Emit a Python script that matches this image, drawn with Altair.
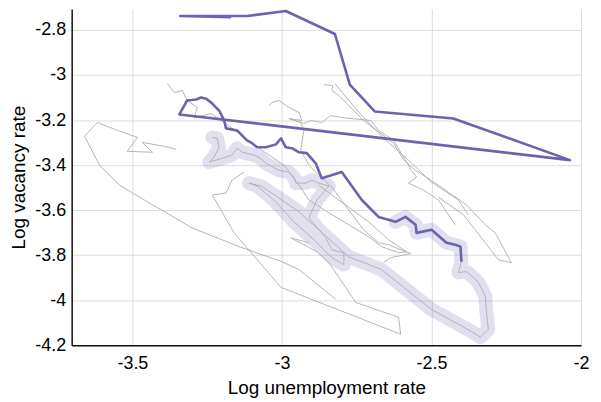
import altair as alt
import pandas as pd

# ---- gray episodes (log unemployment rate u, log vacancy rate v) ----
g1_u = [-3.353, -3.393, -3.467, -3.433, -3.517, -3.483, -3.55, -3.617, -3.66, -3.61, -3.543, -3.46, -3.30, -3.143, -3.0, -2.943, -2.82]
g1_v = [-3.330, -3.317, -3.299, -3.343, -3.339, -3.277, -3.246, -3.211, -3.272, -3.40, -3.489, -3.555, -3.679, -3.762, -3.829, -3.864, -3.996]

g2_u = [-3.127, -3.167, -3.187, -3.233, -3.16, -3.003, -2.603, -2.61, -2.753, -2.843, -2.883, -2.97, -2.91]
g2_v = [-3.431, -3.467, -3.524, -3.533, -3.701, -3.943, -4.151, -4.076, -4.01, -3.833, -3.785, -3.723, -3.745]

g3_u = [-3.383, -3.36, -3.333, -3.317, -3.283, -3.293, -3.237, -3.17, -3.077, -2.993, -2.943, -2.91, -2.843, -2.777, -2.71, -2.667, -2.61, -2.583, -2.643, -2.71, -2.81, -2.877]
g3_v = [-3.038, -3.078, -3.069, -3.113, -3.144, -3.189, -3.171, -3.233, -3.325, -3.40, -3.489, -3.555, -3.612, -3.665, -3.718, -3.762, -3.789, -3.785, -3.732, -3.652, -3.555, -3.489]

g4_u = [-3.043, -3.033, -3.01, -2.977, -2.943, -2.933, -2.977, -2.927, -2.903, -2.867, -2.837, -2.80, -2.703, -2.677, -2.627, -2.567, -2.55, -2.577, -2.527, -2.477, -2.42]
g4_v = [-3.136, -3.122, -3.113, -3.144, -3.166, -3.202, -3.193, -3.215, -3.202, -3.211, -3.18, -3.189, -3.202, -3.246, -3.29, -3.423, -3.453, -3.48, -3.511, -3.555, -3.665]

g5_u = [-2.86, -2.83, -2.833, -2.81, -2.727, -2.627, -2.593, -2.553, -2.477, -2.383, -2.32, -2.287, -2.233, -2.277, -2.32, -2.393, -2.477]
g5_v = [-3.043, -3.047, -3.069, -3.091, -3.202, -3.303, -3.378, -3.423, -3.489, -3.577, -3.665, -3.701, -3.833, -3.82, -3.745, -3.621, -3.542]

g6_u = [-2.977, -2.937, -2.927, -2.937, -2.91, -2.877, -2.833, -2.777, -2.727, -2.677, -2.643, -2.57, -2.637, -2.66]
g6_v = [-3.193, -3.211, -3.246, -3.334, -3.40, -3.445, -3.498, -3.599, -3.687, -3.745, -3.754, -3.793, -3.811, -3.833]

g7_u = [-2.823, -2.743, -2.66, -2.577, -2.50, -2.41, -2.377]
g7_v = [-3.038, -3.166, -3.281, -3.378, -3.476, -3.555, -3.621]

# ---- highlighted episode (halo) ----
halo_u = [-3.233, -3.217, -3.21, -3.227, -3.243, -3.20, -3.167, -3.15, -3.133, -3.093, -3.077, -3.053, -3.01, -2.977,
          -2.96, -2.953, -2.92, -2.90, -2.877, -2.843, -2.883, -2.91, -2.853, -2.833, -2.793, -2.793, -2.833, -2.893,
          -2.96, -3.027, -3.083, -3.11, -3.07, -3.01, -2.943, -2.877, -2.81, -2.777, -2.667, -2.50, -2.367, -2.337,
          -2.31, -2.317, -2.32, -2.343, -2.36, -2.383, -2.41, -2.40, -2.403, -2.42, -2.45, -2.50, -2.55, -2.553,
          -2.587, -2.62]
halo_v = [-3.277, -3.281, -3.321, -3.365, -3.387, -3.37, -3.356, -3.325, -3.343, -3.356, -3.365, -3.392, -3.423, -3.431,
          -3.453, -3.48, -3.48, -3.467, -3.48, -3.493, -3.555, -3.634, -3.723, -3.776, -3.789, -3.842, -3.811, -3.732,
          -3.652, -3.555, -3.493, -3.48, -3.493, -3.546, -3.608, -3.687, -3.767, -3.807, -3.864, -4.041, -4.138, -4.164,
          -4.129, -4.041, -3.983, -3.921, -3.899, -3.873, -3.877, -3.829, -3.762, -3.754, -3.745, -3.687, -3.701, -3.665,
          -3.630, -3.652]

# ---- recent episode (bold) ----
bold_u = [-2.40, -2.403, -2.42, -2.45, -2.50, -2.55, -2.553, -2.587, -2.62, -2.677, -2.733, -2.80, -2.867, -2.887,
          -2.917, -2.943, -2.967, -2.987, -3.003, -3.02, -3.053, -3.083, -3.10, -3.117, -3.15, -3.187, -3.193, -3.21,
          -3.233, -3.253, -3.27, -3.287, -3.317, -3.343, -2.037, -2.427, -2.69, -2.773, -2.823, -2.987, -3.117, -3.34,
          -3.17]
bold_v = [-3.829, -3.762, -3.754, -3.745, -3.687, -3.701, -3.665, -3.630, -3.652, -3.630, -3.555, -3.431, -3.458, -3.392,
          -3.347, -3.343, -3.325, -3.321, -3.281, -3.308, -3.321, -3.321, -3.303, -3.29, -3.246, -3.237, -3.202, -3.158,
          -3.127, -3.105, -3.10, -3.109, -3.113, -3.175, -3.378, -3.193, -3.162, -3.043, -2.818, -2.716, -2.738, -2.738,
          -2.743]

x_ticks = [-3.5, -3, -2.5, -2]
y_ticks = [-4.2, -4, -3.8, -3.6, -3.4, -3.2, -3, -2.8]

PURPLE = "#6b63ad"

episodes = {"g1": (g1_u, g1_v), "g2": (g2_u, g2_v), "g3": (g3_u, g3_v), "g4": (g4_u, g4_v),
            "g5": (g5_u, g5_v), "g6": (g6_u, g6_v), "g7": (g7_u, g7_v), "halo": (halo_u, halo_v)}
rows = []
for name, (us, vs) in episodes.items():
    for i, (a, b) in enumerate(zip(us, vs)):
        rows.append({"ep": name, "i": i, "u": a, "v": b})
gray_df = pd.DataFrame(rows)

halo_df = pd.DataFrame({"i": range(len(halo_u)), "u": halo_u, "v": halo_v})
bold_df = pd.DataFrame({"i": range(len(bold_u)), "u": bold_u, "v": bold_v})

xs = alt.Scale(domain=[-3.703, -2.0], nice=False, zero=False)
ys = alt.Scale(domain=[-4.2, -2.707], nice=False, zero=False)

xenc = alt.X("u:Q", scale=xs, title="Log unemployment rate",
             axis=alt.Axis(values=x_ticks, labelExpr="toString(datum.value)", labelFlush=False,
                           labelPadding=9, titlePadding=6))
yenc = alt.Y("v:Q", scale=ys, title="Log vacancy rate",
             axis=alt.Axis(values=y_ticks, labelExpr="toString(datum.value)", labelFlush=False,
                           labelPadding=6, titlePadding=6))

halo = alt.Chart(halo_df).mark_line(color=PURPLE, strokeWidth=14, opacity=0.2,
                                    strokeCap="round", strokeJoin="round").encode(
    x=xenc, y=yenc, order="i:Q")

gray = alt.Chart(gray_df).mark_line(color="#adadad", strokeWidth=0.9).encode(
    x=xenc, y=yenc, detail="ep:N", order="i:Q")

bold = alt.Chart(bold_df).mark_line(color=PURPLE, strokeWidth=2.6, strokeJoin="round").encode(
    x=xenc, y=yenc, order="i:Q")

chart = alt.layer(halo, gray, bold).properties(
    width=512, height=338,
    autosize=alt.AutoSizeParams(type="none"),
    padding={"left": 64, "top": 0, "right": 12, "bottom": 56},
).configure_view(stroke=None).configure_axis(
    domainColor="#111", domainWidth=1.5, ticks=False, tickSize=0,
    gridColor="#dddddd", gridWidth=1,
    labelFont="Liberation Sans", labelFontSize=18, labelColor="#000",
    titleFont="Liberation Sans", titleFontSize=19, titleFontWeight="normal", titleColor="#000",
    labelOverlap=False, labelBound=False,
)

chart.save("out.html", embed_options={"renderer": "svg", "actions": False})
